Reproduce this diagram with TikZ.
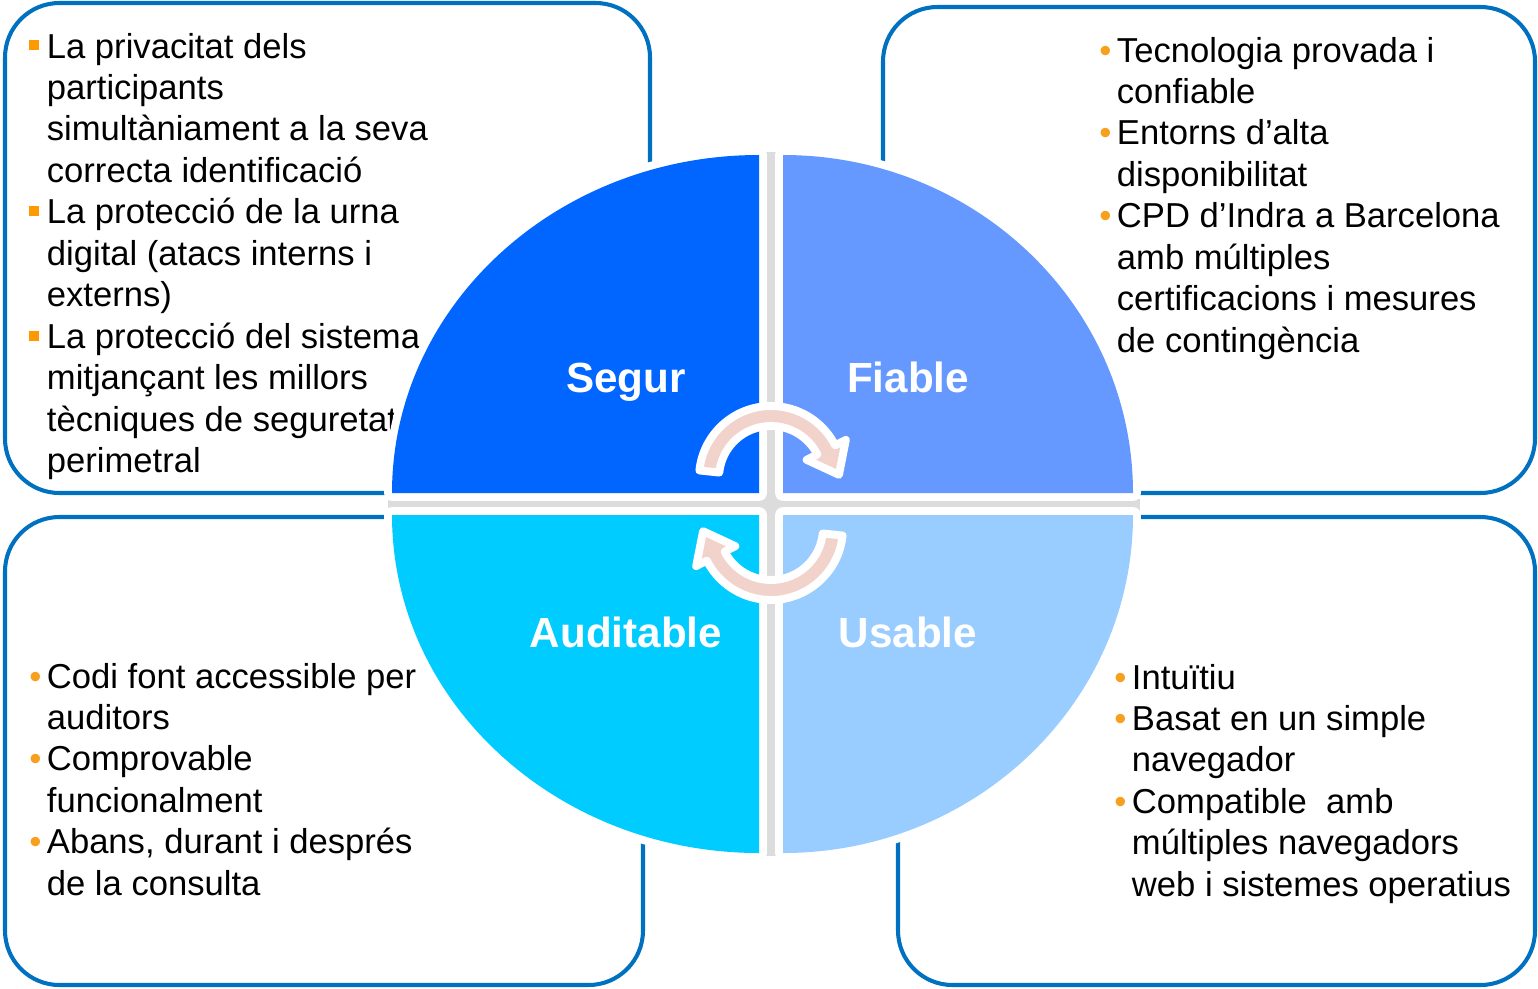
\documentclass[tikz,border=0pt]{standalone}
\usepackage{fontspec}
\setmainfont{Liberation Sans}
\usepackage{tikz}
\usetikzlibrary{calc}

\definecolor{boxblue}{HTML}{0070C0}
\definecolor{segur}{HTML}{0066FF}
\definecolor{fiable}{HTML}{6699FF}
\definecolor{auditable}{HTML}{00CCFF}
\definecolor{usable}{HTML}{99CCFF}
\definecolor{bulsq}{HTML}{FF9900}
\definecolor{bulor}{HTML}{F7A01E}
\definecolor{arrowpink}{HTML}{F2D3CB}
\definecolor{gapgray}{HTML}{DCDCDC}

\newcommand\sqbul{\makebox[10pt][l]{\raisebox{4.4pt}{\textcolor{bulsq}{\rule{5.6pt}{5.6pt}}}}}
\newcommand\dotbul{\makebox[10pt][l]{\textcolor{bulor}{•}}}
\newcommand\cont{\hspace*{10pt}}

\begin{document}
\begin{tikzpicture}[x=0.02cm, y=-0.02cm,
   infobox/.style={draw=boxblue, line width=2.3pt, rounded corners=31pt},
   textblk/.style={anchor=base west, inner sep=0pt, font=\fontsize{19.7}{23.6}\selectfont},
   softshadow/.style={preaction={fill=black, draw=black, opacity=.18,
      transform canvas={xshift=1.3pt, yshift=-1.6pt}}},
   quadrim/.style={softshadow, fill=white, draw=white, line width=9pt, line join=round},
   quadlabel/.style={anchor=base, text=white, font=\bfseries\fontsize{24}{28}\selectfont},
   cycarrow/.style={softshadow, fill=arrowpink, draw=white, line width=4.5pt, line join=round}]
   \useasboundingbox (0,0) rectangle (1538,988);
   % Boxes
   \foreach \x/\y/\X/\Y in {5/3/650/493, 883/7/1535/493, 5/517/643/985, 898/517/1535/985}
      \draw[infobox] (\x,\y) rectangle (\X,\Y);
   % Texts
   \node[textblk] (segurtxt) at (29,58) {\parbox[t]{12cm}{\raggedright
      \sqbul La privacitat dels\\
      \cont participants\\
      \cont simultàniament a la seva\\
      \cont correcta identificació\\
      \sqbul La protecció de la urna\\
      \cont digital (atacs interns i\\
      \cont externs)\\
      \sqbul La protecció del sistema\\
      \cont mitjançant les millors\\
      \cont tècniques de seguretat\\
      \cont perimetral}};
   \node[textblk] (fiabletxt) at (1099,62) {\parbox[t]{12cm}{\raggedright
      \dotbul Tecnologia provada i\\
      \cont confiable\\
      \dotbul Entorns d’alta\\
      \cont disponibilitat\\
      \dotbul CPD d’Indra a Barcelona\\
      \cont amb múltiples\\
      \cont certificacions i mesures\\
      \cont de contingència}};
   \node[textblk] (auditabletxt) at (29,688) {\parbox[t]{12cm}{\raggedright
      \dotbul Codi font accessible per\\
      \cont auditors\\
      \dotbul Comprovable\\
      \cont funcionalment\\
      \dotbul Abans, durant i després\\
      \cont de la consulta}};
   \node[textblk] (usabletxt) at (1114,689) {\parbox[t]{12cm}{\raggedright
      \dotbul Intuïtiu\\
      \dotbul Basat en un simple\\
      \cont navegador\\
      \dotbul Compatible\ \ amb\\
      \cont múltiples navegadors\\
      \cont web i sistemes operatius}};
   % Circle
   \fill[gapgray] (765,152) rectangle (777,856);
   \fill[gapgray] (388,499) rectangle (1140,511);
   \foreach \cx/\cy/\rx/\ry/\a/\col in {759/493/367/338/180/segur, 783/493/350/338/270/fiable,
         759/515/367/338/90/auditable, 783/515/350/338/0/usable} {
      \filldraw[quadrim] (\cx,\cy) -- ++({\rx*cos(\a)},{\ry*sin(\a)})
         arc[start angle=\a, delta angle=90, x radius=\rx, y radius=\ry] -- cycle;
      \fill[\col] (\cx,\cy) -- ++({\rx*cos(\a)},{\ry*sin(\a)})
         arc[start angle=\a, delta angle=90, x radius=\rx, y radius=\ry] -- cycle;
   }
   \node[quadlabel] (segur) at (626,392) {Segur};
   \node[quadlabel] (fiable) at (908,392) {Fiable};
   \node[quadlabel] (auditable) at (626,647) {Auditable};
   \node[quadlabel] (usable) at (908,647) {Usable};
   % Arrows
   \foreach \cy/\r in {478/0, 528/180} {
      \begin{scope}[shift={(771,\cy)}, rotate=\r]
         \filldraw[cycarrow] (186:72) arc[start angle=186, end angle=333, radius=72]
            -- (333:84) -- ($(333:62)+(63:28)$) -- (333:40) -- (333:52)
            arc[start angle=333, end angle=186, radius=52] -- cycle;
      \end{scope}
   }
\end{tikzpicture}
\end{document}
